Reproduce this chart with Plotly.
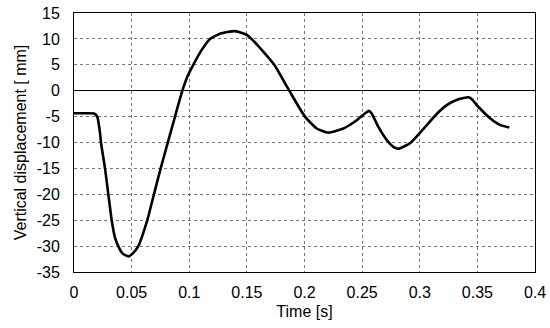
import plotly.graph_objects as go

time_s = [0.0, 0.010, 0.0175, 0.0202, 0.0226, 0.0234, 0.0269, 0.0298, 0.0327, 0.0355,
          0.0384, 0.042, 0.0471, 0.051, 0.0558, 0.0636, 0.0688, 0.0752, 0.0804, 0.088,
          0.094, 0.0985, 0.1035, 0.110, 0.118, 0.1267, 0.1397, 0.150, 0.154, 0.164,
          0.1738, 0.1868, 0.2004, 0.2106, 0.2207, 0.2337, 0.2453, 0.2535, 0.256, 0.2583,
          0.264, 0.2713, 0.2775, 0.2814, 0.2915, 0.3031, 0.3147, 0.3234, 0.3335, 0.3422,
          0.345, 0.3508, 0.361, 0.3696, 0.3777]
displacement_mm = [-4.35, -4.35, -4.4, -5.0, -8.2, -10.0, -15.0, -20.0, -25.0, -28.3,
                   -30.0, -31.4, -32.0, -31.4, -30.0, -25.0, -20.5, -15.0, -10.8, -4.7,
                   0.0, 2.8, 5.0, 7.6, 10.0, 11.0, 11.5, 10.8, 10.0, 7.6,
                   5.0, 0.0, -5.0, -7.3, -8.1, -7.3, -5.7, -4.2, -3.9, -4.4,
                   -6.95, -9.5, -10.9, -11.2, -10.15, -7.4, -4.5, -2.8, -1.66, -1.27,
                   -1.6, -3.1, -5.3, -6.6, -7.1]

x_ticks = [0, 0.05, 0.1, 0.15, 0.2, 0.25, 0.3, 0.35, 0.4]
x_tick_labels = ["0", "0.05", "0.1", "0.15", "0.2", "0.25", "0.3", "0.35", "0.4"]
y_ticks = [-35, -30, -25, -20, -15, -10, -5, 0, 5, 10, 15]
y_tick_labels = ["-35", "-30", "-25", "-20", "-15", "-10", "-5", "0", "5", "10", "15"]

fig = go.Figure()
fig.add_trace(go.Scatter(
    x=time_s, y=displacement_mm, mode="lines",
    line=dict(color="black", width=2.6, shape="spline", smoothing=0.5),
    showlegend=False, hoverinfo="skip",
))

font = dict(family="Liberation Sans, Arial, sans-serif", size=16, color="black")

fig.update_layout(
    width=550, height=328,
    margin=dict(l=74, r=15, t=13, b=56),
    plot_bgcolor="white", paper_bgcolor="white",
    font=font,
    xaxis=dict(
        range=[0, 0.4], tickvals=x_ticks, ticktext=x_tick_labels,
        showgrid=True, gridcolor="#777777", griddash="dot", gridwidth=1,
        showline=True, linecolor="black", linewidth=1, mirror=True,
        zeroline=False, ticks="", automargin=False, ticklabelstandoff=6,
        ticklabeloverflow="allow",
        title=dict(text="Time [s]", standoff=5, font=font),
    ),
    yaxis=dict(
        range=[-35, 15], tickvals=y_ticks, ticktext=y_tick_labels,
        showgrid=True, gridcolor="#777777", griddash="dot", gridwidth=1,
        showline=True, linecolor="black", linewidth=1, mirror=True,
        zeroline=True, zerolinecolor="black", zerolinewidth=1.2,
        ticks="", ticklabelstandoff=10, automargin=False,
        ticklabeloverflow="allow",
        title=dict(text="Vertical displacement [ mm]", standoff=6, font=font),
    ),
)

fig.write_html("out.html", config={"displayModeBar": False},
               post_script="document.body.style.margin='0';")
